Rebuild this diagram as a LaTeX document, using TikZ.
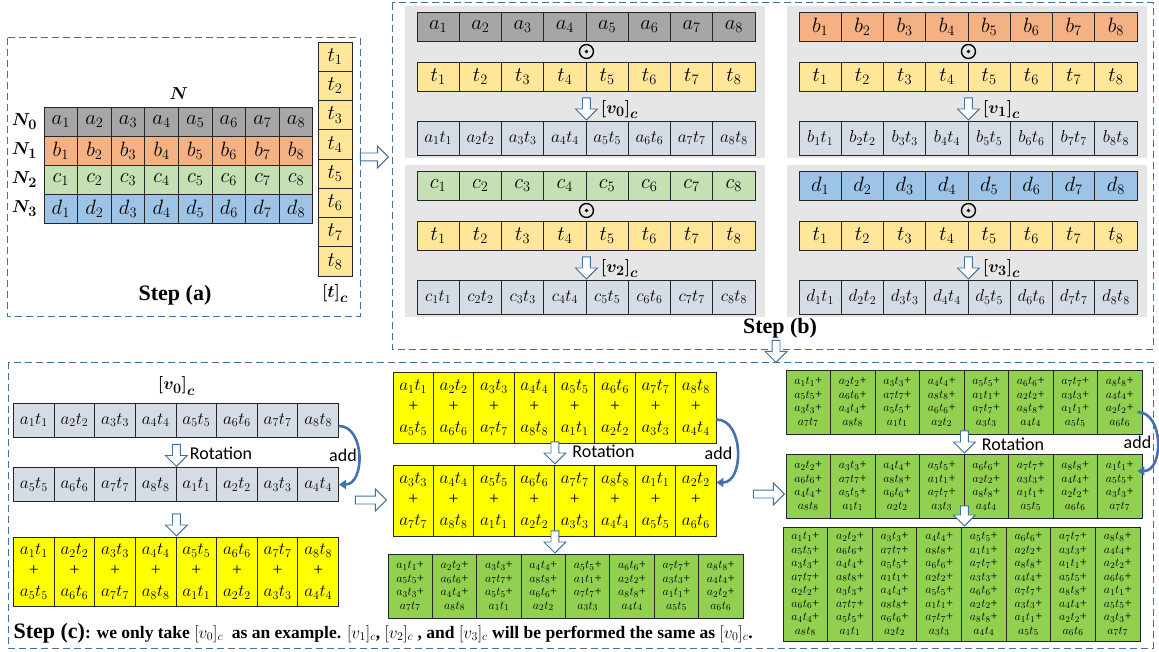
\documentclass[tikz,border=0pt]{standalone}
\usepackage{amsmath,bm}
\usepackage{fontspec}
\setmainfont{Liberation Serif}
\setsansfont{Carlito}
\usetikzlibrary{arrows.meta,positioning,calc,shapes.arrows}
\definecolor{boxblue}{RGB}{65,113,156}
\definecolor{arrowblue}{RGB}{68,114,176}
\definecolor{cellgrey}{RGB}{166,166,166}
\definecolor{cellorange}{RGB}{244,177,131}
\definecolor{cellgreen}{RGB}{197,224,180}
\definecolor{cellblue}{RGB}{157,195,230}
\definecolor{cellt}{RGB}{255,230,153}
\definecolor{cellprod}{RGB}{214,220,229}
\definecolor{panelbg}{RGB}{231,230,230}
\definecolor{sumyellow}{RGB}{255,255,0}
\definecolor{sumgreen}{RGB}{146,208,80}
\tikzset{
  cell/.style={draw=black!85,line width=0.9pt,inner sep=0pt,align=center,font=\fontsize{20}{22}\selectfont},
  pcell/.style={cell,fill=cellprod,minimum height=34pt,font=\fontsize{17.5}{20}\selectfont},
  ycell/.style={cell,fill=sumyellow,minimum height=71pt,font=\fontsize{17.5}{21}\selectfont},
  gcell/.style={cell,fill=sumgreen,font=\fontsize{12.5}{13.5}\selectfont},
  dashbox/.style={draw=boxblue,line width=1pt,dash pattern=on 7pt off 4pt},
  harrow/.style={single arrow,draw=boxblue,fill=white,line width=0.9pt,inner xsep=0pt,inner ysep=3.5pt,single arrow head extend=7pt,minimum height=22pt},
  addarrow/.style={-{Triangle[width=9pt,length=7pt]},line width=2.6pt,draw=arrowblue},
  odot/.style={circle,draw,line width=1.4pt,minimum size=14pt,inner sep=0pt,path picture={\fill (path picture bounding box.center) circle (1.8pt);}},
  hlab/.style={font=\fontsize{19}{21}\selectfont},
  steplab/.style={font=\fontsize{22}{24}\selectfont\bfseries},
  rotlab/.style={font=\fontsize{18}{20}\selectfont\sffamily},
}
\newcommand\atm[2]{\pgfmathtruncatemacro\sumidx{mod(#1+#2-1,8)+1}$a_{\sumidx}t_{\sumidx}$}

\begin{document}
\begin{tikzpicture}[x=1pt,y=-1pt]
  \fill[white] (0,0) rectangle (1159,652);
  \useasboundingbox (0,0) rectangle (1159,652);

  % step (a): the matrix N and the column [t]_c
  \draw[dashbox] (7,38) rectangle (360,316);
  \foreach \rw/\ltr/\clr in {0/a/cellgrey,1/b/cellorange,2/c/cellgreen,3/d/cellblue}{
    \foreach \i in {1,...,8}
      \node[cell,fill=\clr,minimum width=33.6pt,minimum height=29pt] (m\rw-\i) at ({44+33.6*(\i-0.5)},{121.5+29*\rw}) {$\ltr_{\i}$};
    \node[hlab,left=3pt of m\rw-1] (n\rw) {$\boldsymbol{N_{\rw}}$};
  }
  \node[hlab,above=4pt of m0-4.north east] (ntop) {$\boldsymbol{N}$};
  \foreach \i in {1,...,8}
    \node[cell,fill=cellt,minimum width=34pt,minimum height=29.25pt] (tc-\i) at (335,{42+29.25*(\i-0.5)}) {$t_{\i}$};
  \node[hlab,below=5pt of tc-8] (tlab) {$\boldsymbol{[t]_c}$};
  \node[steplab] (stepa) at (175,295) {Step (a)};
  \node[harrow,minimum height=28pt,anchor=tip] (arrab) at (389,157) {};

  % step (b): one panel per row
  \draw[dashbox] (392,3) rectangle (1153,349);
  \foreach \px/\py/\ltr/\clr/\vi in {405/6/a/cellgrey/0,787/6/b/cellorange/1,405/165/c/cellgreen/2,787/165/d/cellblue/3}{
    \fill[panelbg] (\px,\py) rectangle ++(360,152);
    \foreach \i in {1,...,8}{
      \node[cell,fill=\clr,minimum width=42.25pt,minimum height=29pt] (\ltr x\i) at ({\px+12+42.25*(\i-0.5)},{\py+20.5}) {$\ltr_{\i}$};
      \node[cell,fill=cellt,minimum width=42.25pt,minimum height=29pt] (\ltr t\i) at ({\px+12+42.25*(\i-0.5)},{\py+70.5}) {$t_{\i}$};
      \node[pcell,minimum width=42.25pt] (\ltr p\i) at ({\px+12+42.25*(\i-0.5)},{\py+132}) {$\ltr_{\i}t_{\i}$};
    }
    \node[odot] (\ltr dot) at ($(\ltr x4.east)!0.5!(\ltr t4.east)$) {};
    \node[harrow,rotate=-90,anchor=tip] (\ltr arr) at (\ltr p4.north east) {};
    \node[hlab,anchor=west] (\ltr v) at ($(\ltr p4.north east)+(11,-11)$) {$\boldsymbol{[v_{\vi}]_c}$};
  }
  \node[steplab] (stepb) at (780,328) {Step (b)};
  \node[harrow,rotate=-90,anchor=tip] (arrbc) at (776,363) {};

  % step (c)
  \draw[dashbox] (8,362) rectangle (1153,648);
  % first rotation
  \foreach \i in {1,...,8}{
    \pgfmathtruncatemacro\k{mod(\i+3,8)+1}
    \node[pcell,minimum width=40.625pt] (r0-\i) at ({13.5+40.625*(\i-0.5)},420) {$a_{\i}t_{\i}$};
    \node[pcell,minimum width=40.625pt] (r1-\i) at ({13.5+40.625*(\i-0.5)},484.5) {$a_{\k}t_{\k}$};
    \node[ycell,minimum width=40.625pt,minimum height=69pt] (y0-\i) at ({13.5+40.625*(\i-0.5)},571.5) {$a_{\i}t_{\i}$\\+\\$a_{\k}t_{\k}$};
  }
  \node[hlab,above=4pt of r0-4.north east] (vhead) {$\boldsymbol{[v_0]_c}$};
  \node[harrow,rotate=-90,anchor=tip] (rot0) at (r1-4.north east) {};
  \node[rotlab,anchor=west] (rotlab0) at ($(r1-4.north east)+(10,-14)$) {Rotation};
  \node[rotlab] (add0) at ($(r0-8.east)+(4,35)$) {add};
  \draw[addarrow] ([yshift=-6pt]r0-8.east) to[out=0,in=0,looseness=1.15] (r1-8.east);
  \node[harrow,rotate=-90,anchor=tip] (sum0) at (y0-4.north east) {};
  \node[harrow,minimum height=31pt,anchor=tip] (arrlm) at (387,500) {};

  % second rotation
  \foreach \i in {1,...,8}{
    \pgfmathtruncatemacro\k{mod(\i+3,8)+1}
    \pgfmathtruncatemacro\m{mod(\i+1,8)+1}
    \pgfmathtruncatemacro\n{mod(\i+5,8)+1}
    \node[ycell,minimum width=40.375pt] (y1-\i) at ({393+40.375*(\i-0.5)},407.5) {$a_{\i}t_{\i}$\\+\\$a_{\k}t_{\k}$};
    \node[ycell,minimum width=40.375pt] (y2-\i) at ({393+40.375*(\i-0.5)},500.5) {$a_{\m}t_{\m}$\\+\\$a_{\n}t_{\n}$};
    \node[gcell,minimum width=44.375pt,minimum height=64pt] (g0-\i) at ({388+44.375*(\i-0.5)},586) {\atm{\i}{0}+\\\atm{\i}{4}+\\\atm{\i}{2}+\\\atm{\i}{6}};
  }
  \node[harrow,rotate=-90,anchor=tip] (rot1) at (y2-4.north east) {};
  \node[rotlab,anchor=west] (rotlab1) at ($(y2-4.north east)+(14,-13)$) {Rotation};
  \node[rotlab] (add1) at ($(y1-8.east)+(2,45.5)$) {add};
  \draw[addarrow] ([yshift=-12pt]y1-8.east) to[out=0,in=0,looseness=1.13] ([yshift=18pt]y2-8.east);
  \node[harrow,rotate=-90,anchor=tip] (sum1) at (y2-4.south east |- g0-1.north) {};
  \node[harrow,minimum height=31pt,anchor=tip] (arrmr) at (785,494) {};

  % third rotation
  \foreach \i in {1,...,8}{
    \node[gcell,minimum width=44.5pt,minimum height=64pt] (G1-\i) at ({786+44.5*(\i-0.5)},402) {\atm{\i}{0}+\\\atm{\i}{4}+\\\atm{\i}{2}+\\\atm{\i}{6}};
    \node[gcell,minimum width=44.5pt,minimum height=64pt] (G2-\i) at ({786+44.5*(\i-0.5)},486) {\atm{\i}{1}+\\\atm{\i}{5}+\\\atm{\i}{3}+\\\atm{\i}{7}};
    \node[gcell,minimum width=44.625pt,minimum height=114pt] (G3-\i) at ({783+44.625*(\i-0.5)},584) {\atm{\i}{0}+\\\atm{\i}{4}+\\\atm{\i}{2}+\\\atm{\i}{6}+\\\atm{\i}{1}+\\\atm{\i}{5}+\\\atm{\i}{3}+\\\atm{\i}{7}};
  }
  \node[harrow,rotate=-90,anchor=tip] (rot2) at (G2-4.north east) {};
  \node[rotlab,anchor=west] (rotlab2) at ($(G2-4.north east)+(14,-9)$) {Rotation};
  \node[rotlab] (add2) at ($(G1-8.east)+(-5,40)$) {add};
  \draw[addarrow] ([xshift=-5pt,yshift=-10pt]G1-8.east) to[out=0,in=0,looseness=1.15] ([xshift=-5pt,yshift=15pt]G2-8.east);
  \node[harrow,rotate=-90,anchor=tip,minimum height=20pt] (sum2) at (G2-4.south east |- G3-1.north) {};

  \node[anchor=west,font=\fontsize{17.5}{19}\selectfont\bfseries] (stepc) at (10,633) {{\fontsize{22}{24}\selectfont Step (c)}: we only take $[v_0]_c$\ \ as an example. $[v_1]_c$, $[v_2]_c$ , and $[v_3]_c$ will be performed the same as $[v_0]_c$.};
\end{tikzpicture}
\end{document}
